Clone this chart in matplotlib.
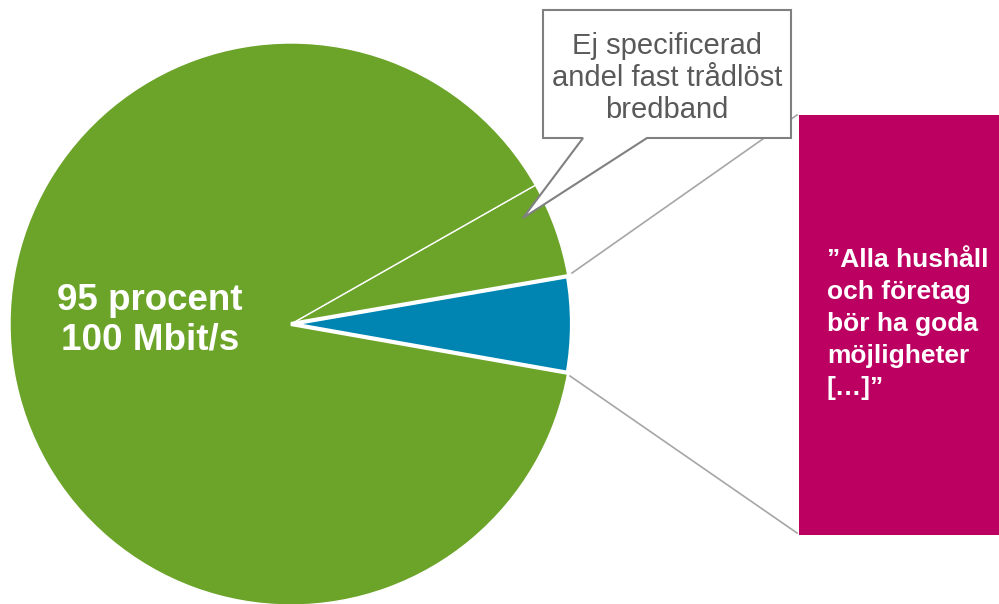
import matplotlib.pyplot as plt
from matplotlib.patches import Polygon, Rectangle

plt.rcParams['font.family'] = ['Liberation Sans', 'DejaVu Sans']

# pie shares (percent of circle)
labels = ['Blue', 'Ej specificerad', 'Rest']
shares = [5.5, 5.5, 89.0]
colors = ['#0085B2', '#6BA429', '#6BA429']

pie_label = '95 procent\n100 Mbit/s'
callout_text = 'Ej specificerad\nandel fast trådlöst\nbredband'
quote_text = '\u201dAlla hushåll\noch företag\nbör ha goda\nmöjligheter\n[…]\u201d'

W, H = 999, 604
fig = plt.figure(figsize=(W / 100, H / 100), dpi=100)
ax = fig.add_axes([0, 0, 1, 1])

cx, cy, r = 291, H - 324, 281

wedges, _ = ax.pie(shares, colors=colors, startangle=-10, counterclock=True,
                   center=(cx, cy), radius=r, frame=True,
                   wedgeprops=dict(edgecolor='white', linewidth=1.0))
wedges[0].set_linewidth(3)
wedges[0].set_zorder(3)
ax.set_xlim(0, W)
ax.set_ylim(0, H)
ax.set_aspect('equal')
ax.axis('off')

ax.text(150, H - 320, pie_label, color='white', fontsize=26.5, fontweight='bold',
        ha='center', va='center', linespacing=1.17)

# connector lines to quote box
ax.plot([572, 797], [H - 273, H - 115], color='#A6A6A6', lw=1.2, zorder=1)
ax.plot([570, 797], [H - 376, H - 533], color='#A6A6A6', lw=1.2, zorder=1)

# quote box
ax.add_patch(Rectangle((799, H - 535), W - 799, 420, facecolor='#BC0062',
                       edgecolor='none', zorder=2))
ax.text(827, H - 324, quote_text, color='white', fontsize=19, fontweight='bold',
        ha='left', va='center', linespacing=1.42, zorder=3)

# callout
pts = [(543, 10), (791, 10), (791, 138), (647, 138), (523, 218), (583, 138), (543, 138)]
ax.add_patch(Polygon([(x, H - y) for x, y in pts], closed=True, facecolor='white',
                     edgecolor='#808080', lw=1.5, zorder=4))
ax.text(667, H - 78, callout_text, color='#595959', fontsize=21,
        ha='center', va='center', linespacing=1.2, zorder=5)

fig.savefig('out.png', dpi=100)
